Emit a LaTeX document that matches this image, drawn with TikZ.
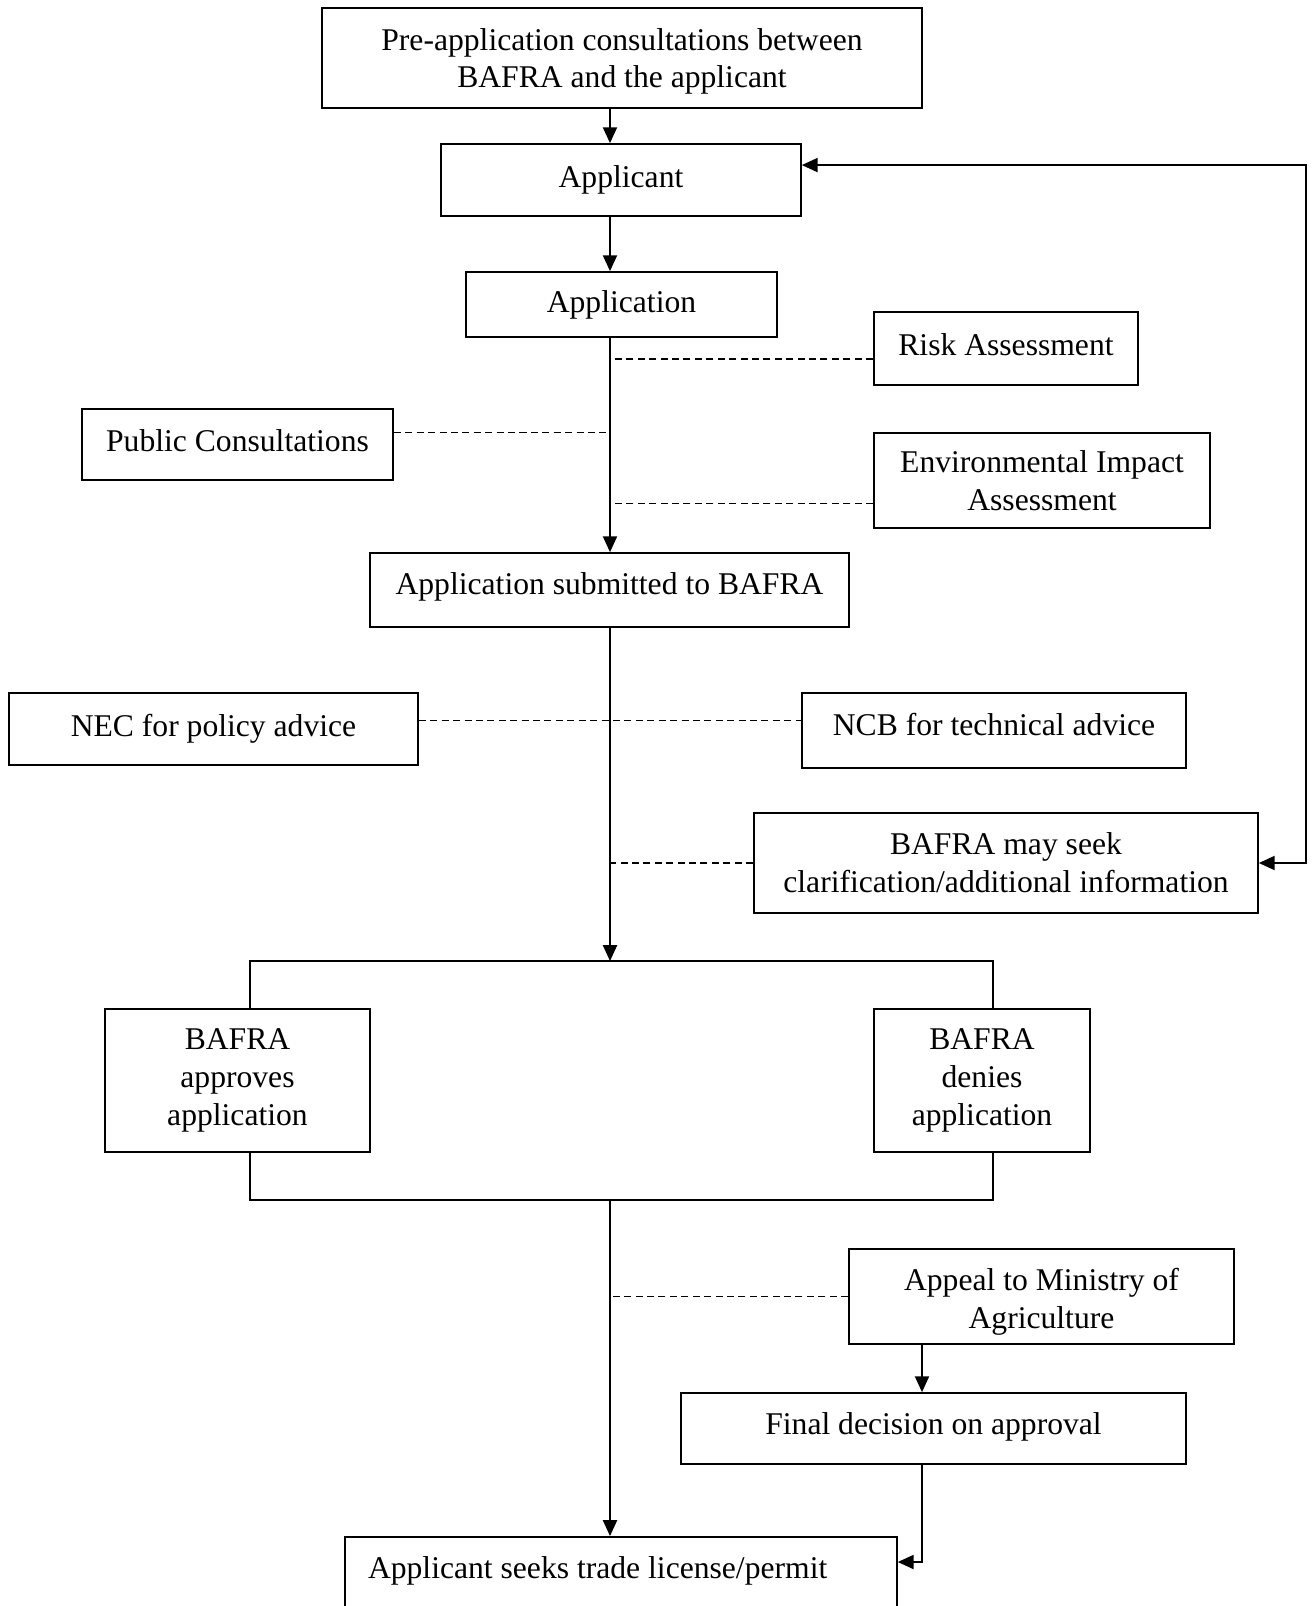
\documentclass[tikz,border=0pt]{standalone}
\usepackage{fontspec}
\setmainfont{Liberation Serif}
\usepackage{tikz}
\usetikzlibrary{arrows.meta}

\tikzset{
    stage/.style={draw, line width=1pt, align=center, inner sep=2pt},
    flow/.style={line width=1pt, -{Triangle[length=9pt, width=8pt]}},
    consult/.style={line width=0.7pt, dash pattern=on 4pt off 2.5pt}
}

\begin{document}
\begin{tikzpicture}[x=0.02cm, y=-0.02cm, font=\fontsize{18}{21.5}\selectfont]

    % Frame
    \useasboundingbox (0, 0) rectangle (1313, 1606);

    % Guides
    \coordinate (spine) at (610, 0);
    \coordinate (lx) at (250, 0);
    \coordinate (rx) at (993, 0);
    \coordinate (fb) at (1306, 0);
    \coordinate (ax) at (922, 0);
    \coordinate (split) at (610, 961);
    \coordinate (join) at (610, 1200);
    \coordinate (fin) at (922, 1562);

    % Upper boxes
    \node[stage, minimum width=12cm, minimum height=2cm, text height=37.8pt] (pre) at (622, 58) {Pre-application consultations between\\BAFRA and the applicant};
    \node[stage, minimum width=7.2cm, minimum height=1.44cm] (applicant) at (621, 180) {Applicant};
    \node[stage, minimum width=6.22cm, minimum height=1.3cm] (application) at (621.5, 304.5) {Application};
    \node[stage, minimum width=5.28cm, minimum height=1.46cm, text depth=4.6pt] (risk) at (1006, 348.5) {Risk Assessment};
    \node[stage, minimum width=6.22cm, minimum height=1.42cm, text depth=4.6pt] (public) at (237.5, 444.5) {Public Consultations};
    \node[stage, minimum width=6.72cm, minimum height=1.9cm] (eia) at (1042, 480.5) {Environmental Impact\\Assessment};
    \node[stage, minimum width=9.58cm, minimum height=1.48cm, text depth=7.4pt] (submitted) at (609.5, 590) {Application submitted to BAFRA};

    % Advice boxes
    \node[stage, minimum width=8.18cm, minimum height=1.44cm] (nec) at (213.5, 729) {NEC for policy advice};
    \node[stage, minimum width=7.68cm, minimum height=1.5cm, text depth=7pt] (ncb) at (994, 730.5) {NCB for technical advice};
    \node[stage, minimum width=10.08cm, minimum height=2cm] (seek) at (1006, 863) {BAFRA may seek\\clarification/additional information};

    % Decision boxes
    \node[stage, minimum width=5.3cm, minimum height=2.86cm] (approves) at (237.5, 1080.5) {BAFRA\\approves\\application};
    \node[stage, minimum width=4.32cm, minimum height=2.86cm] (denies) at (982, 1080.5) {BAFRA\\denies\\application};
    \node[stage, minimum width=7.7cm, minimum height=1.9cm, text height=40pt] (appeal) at (1041.5, 1296.5) {Appeal to Ministry of\\Agriculture};
    \node[stage, minimum width=10.1cm, minimum height=1.42cm, text depth=6.2pt] (final) at (933.5, 1428.5) {Final decision on approval};
    \node[stage, anchor=north, align=flush left, inner xsep=12pt, text width=288pt, minimum width=11.04cm, minimum height=2cm, text height=12pt, text depth=22pt] (permit) at (621, 1536) {Applicant seeks trade license/permit};

    % Main line
    \draw[flow] (pre.south -| spine) -- (applicant.north -| spine);
    \draw[flow] (applicant.south -| spine) -- (application.north -| spine);
    \draw[flow] (application.south -| spine) -- (submitted.north -| spine);
    \draw[flow] (submitted.south -| spine) -- (split);

    % Consultations
    \draw[consult] ([yshift=-6pt]risk.west) -- ([yshift=-6pt]risk.west -| spine);
    \draw[consult] ([yshift=7pt]public.east) -- ([yshift=7pt]public.east -| spine);
    \draw[consult] ([yshift=-13pt]eia.west) -- ([yshift=-13pt]eia.west -| spine);
    \draw[consult] ([yshift=5pt]nec.east) -- ([yshift=5pt]nec.east -| ncb.west);
    \draw[consult] (seek.west) -- (seek.west -| spine);
    \draw[consult] (appeal.west) -- (appeal.west -| spine);

    % Feedback to applicant
    \coordinate (back) at ([yshift=8.5pt]applicant.east);
    \draw[flow, {Triangle[length=9pt, width=8pt]}-{Triangle[length=9pt, width=8pt]}] (seek.east) -- (seek.east -| fb) -- (fb |- back) -- (back);

    % Decision bracket
    \draw[line width=1pt] (approves.north -| lx) -- (lx |- split) -- (rx |- split) -- (denies.north -| rx);
    \draw[line width=1pt] (approves.south -| lx) -- (lx |- join) -- (rx |- join) -- (denies.south -| rx);
    \draw[flow] (join) -- (permit.north -| spine);

    % Appeal route
    \draw[flow] (appeal.south -| ax) -- (final.north -| ax);
    \draw[flow] (final.south -| fin) -- (fin) -- (fin -| permit.east);

\end{tikzpicture}
\end{document}
